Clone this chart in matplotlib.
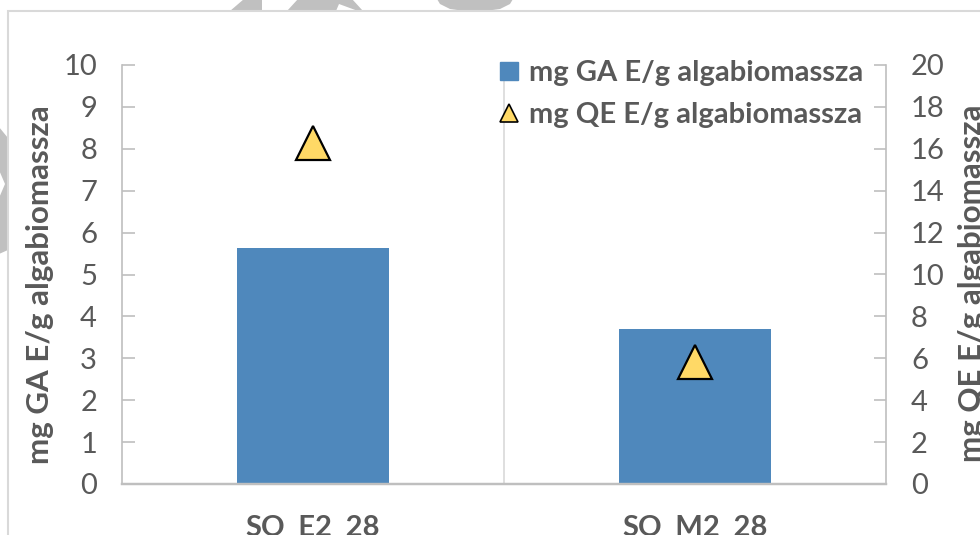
import matplotlib
matplotlib.use('Agg')
import matplotlib.pyplot as plt
import matplotlib.patches as patches
from matplotlib.lines import Line2D

# Data
categories = ['SO_E2_28', 'SO_M2_28']
ga_values = [5.63, 3.71]      # mg GA E/g algabiomassza (left axis)
qe_values = [16.3, 5.8]       # mg QE E/g algabiomassza (right axis)
left_ticks = list(range(0, 11))
right_ticks = list(range(0, 21, 2))

ga_label = 'mg GA E/g algabiomassza'
qe_label = 'mg QE E/g algabiomassza'

BAR_COLOR = '#4F88BC'
TRI_COLOR = '#FFD966'
TEXT_COLOR = '#595959'
AXIS_COLOR = '#BFBFBF'
GRID_COLOR = '#D9D9D9'

W, H = 980, 535
plt.rcParams['font.family'] = ['Lato', 'DejaVu Sans']


def fx(x):
    return x / W


def fy(y):
    return 1 - y / H


fig = plt.figure(figsize=(W / 100, H / 100), dpi=100)

# light gray shapes behind the chart frame
wm = [
    [(230, 11), (262, 11), (262, -1), (244, -1)],
    [(287, 11), (336, 11), (339, 4), (358, 11), (363, 11), (352, -1), (298, -1)],
    [(437, -1), (440, 4), (450, 9), (465, 11), (485, 11), (500, 9), (510, 4), (513, -1)],
    [(-1, 127), (8, 138), (8, 250), (-1, 254), (-1, 198), (5, 184), (-1, 170)],
]
for poly in wm:
    fig.patches.append(patches.Polygon([(fx(x), fy(y)) for x, y in poly],
                                       closed=True, transform=fig.transFigure,
                                       facecolor='#C0C0C0', edgecolor='none', zorder=-3))

# chart frame
fig.patches.append(patches.Rectangle((fx(8), fy(545)), fx(990 - 8), (545 - 11) / H,
                                     transform=fig.transFigure, facecolor='white',
                                     edgecolor=GRID_COLOR, linewidth=1.5, zorder=-2))

ax = fig.add_axes([fx(122), fy(484), (886 - 122) / W, (484 - 65) / H])
ax.patch.set_visible(False)
ax2 = ax.twinx()

x = list(range(len(categories)))
ax.bar(x, ga_values, width=0.4, color=BAR_COLOR, zorder=2)
ax.axvline(0.5, color=GRID_COLOR, linewidth=1.2, zorder=1)

ax.set_xlim(-0.5, len(categories) - 0.5)
ax.set_ylim(0, 10)
ax.set_yticks(left_ticks)
ax.set_xticks(x)
ax.set_xticklabels(categories, fontsize=21, fontweight='bold', color=TEXT_COLOR)
ax.tick_params(axis='x', length=0, pad=22)
ax.tick_params(axis='y', direction='in', length=9, width=1.2, color=AXIS_COLOR,
               labelsize=21, labelcolor=TEXT_COLOR, pad=18)

ax2.plot(x, qe_values, linestyle='none', marker='^', markersize=25,
         markerfacecolor=TRI_COLOR, markeredgecolor='black', markeredgewidth=1.6,
         zorder=3)
ax2.set_ylim(0, 20)
ax2.set_yticks(right_ticks)
ax2.tick_params(axis='y', direction='in', length=9, width=1.2, color=AXIS_COLOR,
                labelsize=21, labelcolor=TEXT_COLOR, pad=18)

for a in (ax, ax2):
    a.spines['top'].set_visible(False)
    for side in ('left', 'right'):
        a.spines[side].set_color(AXIS_COLOR)
        a.spines[side].set_linewidth(1.2)
    a.spines['bottom'].set_color(AXIS_COLOR)
    a.spines['bottom'].set_linewidth(1.6)
ax.spines['right'].set_visible(False)
ax2.spines['left'].set_visible(False)

fig.text(fx(40), fy(285), ga_label, rotation=90, ha='center', va='center',
         fontsize=22.5, fontweight='bold', color=TEXT_COLOR)
fig.text(fx(972), fy(283), qe_label, rotation=90, ha='center', va='center',
         fontsize=22.5, fontweight='bold', color=TEXT_COLOR)

handles = [
    Line2D([], [], linestyle='none', marker='s', markersize=13,
           markerfacecolor=BAR_COLOR, markeredgecolor=BAR_COLOR),
    Line2D([], [], linestyle='none', marker='^', markersize=13,
           markerfacecolor=TRI_COLOR, markeredgecolor='black', markeredgewidth=1.2),
]
ax2.legend(handles, [ga_label, qe_label], loc='upper left',
           bbox_to_anchor=(fx(497), fy(60)), bbox_transform=fig.transFigure,
           frameon=False, borderpad=0, borderaxespad=0, handlelength=0.8,
           handletextpad=0.3, labelspacing=0.55,
           prop={'size': 21, 'weight': 'bold'}, labelcolor=TEXT_COLOR)

fig.savefig('out.png', dpi=100)
